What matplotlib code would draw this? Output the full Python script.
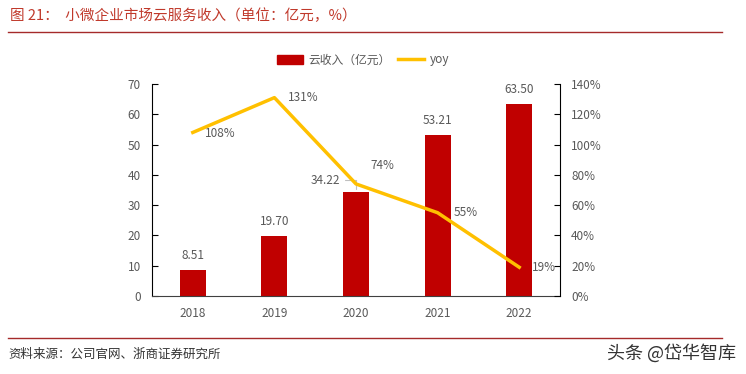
import matplotlib
matplotlib.use("Agg")
import matplotlib.pyplot as plt
from matplotlib.lines import Line2D

plt.rcParams['font.family'] = ['Noto Sans CJK SC', 'DejaVu Sans']

years = ["2018", "2019", "2020", "2021", "2022"]
revenue = [8.51, 19.70, 34.22, 53.21, 63.50]
yoy = [108, 131, 74, 55, 19]
rev_labels = ["8.51", "19.70", "34.22", "53.21", "63.50"]
yoy_labels = ["108%", "131%", "74%", "55%", "19%"]
left_ticks = [0, 10, 20, 30, 40, 50, 60, 70]
right_ticks = [0, 20, 40, 60, 80, 100, 120, 140]

RED = "#C00000"
YEL = "#FFC000"
GRAY = "#595959"

fig = plt.figure(figsize=(7.46, 3.74), dpi=100)
W, H = 746, 374
ax = fig.add_axes([152 / W, 1 - 296 / H, (560 - 152) / W, (296 - 84) / H])
ax2 = ax.twinx()

x = list(range(len(years)))
ax.bar(x, revenue, width=0.32, color=RED, zorder=2)
ax2.plot(x, yoy, color=YEL, lw=2.5, zorder=3)

ax.set_xlim(-0.5, 4.5)
ax.set_ylim(0, 70)
ax2.set_ylim(0, 140)
ax.set_yticks(left_ticks)
ax.set_yticklabels([str(t) for t in left_ticks])
ax2.set_yticks(right_ticks)
ax2.set_yticklabels([f"{t}%" for t in right_ticks])
ax.set_xticks(x)
ax.set_xticklabels(years)

for a in (ax, ax2):
    a.spines["top"].set_visible(False)
    a.tick_params(colors=GRAY, labelsize=8.5)
ax.spines["right"].set_visible(False)
ax2.spines["left"].set_visible(False)
ax2.spines["bottom"].set_visible(False)
ax.spines["left"].set_color("black")
ax.spines["bottom"].set_color("#404040")
ax2.spines["right"].set_color("black")
ax.tick_params(axis="y", direction="in", length=4, color="black", pad=8)
ax2.tick_params(axis="y", direction="in", length=4, color="black", pad=8)
ax.tick_params(axis="x", length=0, pad=8)

# bar labels
for i, (v, lab) in enumerate(zip(revenue, rev_labels)):
    if i == 2:
        ax.annotate(lab, xy=(i, v + 0.3), xytext=(i - 0.2, v + 4.0),
                    ha="right", va="center", fontsize=8.5, color=GRAY,
                    arrowprops=dict(arrowstyle="-", color="#BFBFBF", lw=0.8,
                                    connectionstyle="angle,angleA=0,angleB=90,rad=0"))
    else:
        ax.text(i, v + 2.6, lab, ha="center", va="bottom", fontsize=8.5, color=GRAY)

# yoy labels
offsets = [(0.15, -1), (0.17, 0), (0.18, 12), (0.2, 0), (0.16, 0)]
for i, (v, lab) in enumerate(zip(yoy, yoy_labels)):
    dx, dy = offsets[i]
    ax2.text(i + dx, v + dy, lab, ha="left", va="center", fontsize=8.5, color=GRAY, zorder=4)

# legend
handles = [plt.Rectangle((0, 0), 1, 1, color=RED),
           Line2D([0], [0], color=YEL, lw=2.5)]
fig.legend(handles, ["云收入（亿元）", "yoy"], loc="center", bbox_to_anchor=(363 / W, 1 - 60 / H),
           ncol=2, frameon=False, fontsize=8.5, labelcolor=GRAY, handlelength=2.2,
           columnspacing=0.6, handletextpad=0.5)

# title and rules
fig.text(10 / W, 1 - 16 / H, "图 21：  小微企业市场云服务收入（单位：亿元，%）",
         ha="left", va="center", fontsize=10.5, color="#C0392B")
fig.add_artist(Line2D([8 / W, 722 / W], [1 - 32 / H, 1 - 32 / H], color="#A52A2A", lw=1.0))
fig.add_artist(Line2D([8 / W, 722 / W], [1 - 338 / H, 1 - 338 / H], color="#A52A2A", lw=1.0))
fig.text(8 / W, 1 - 354 / H, "资料来源：公司官网、浙商证券研究所",
         ha="left", va="center", fontsize=9, color="#333333")
fig.text(736 / W, 1 - 353 / H, "头条 @岱华智库",
         ha="right", va="center", fontsize=13, color="#333333")

fig.savefig("out.png", dpi=100)
